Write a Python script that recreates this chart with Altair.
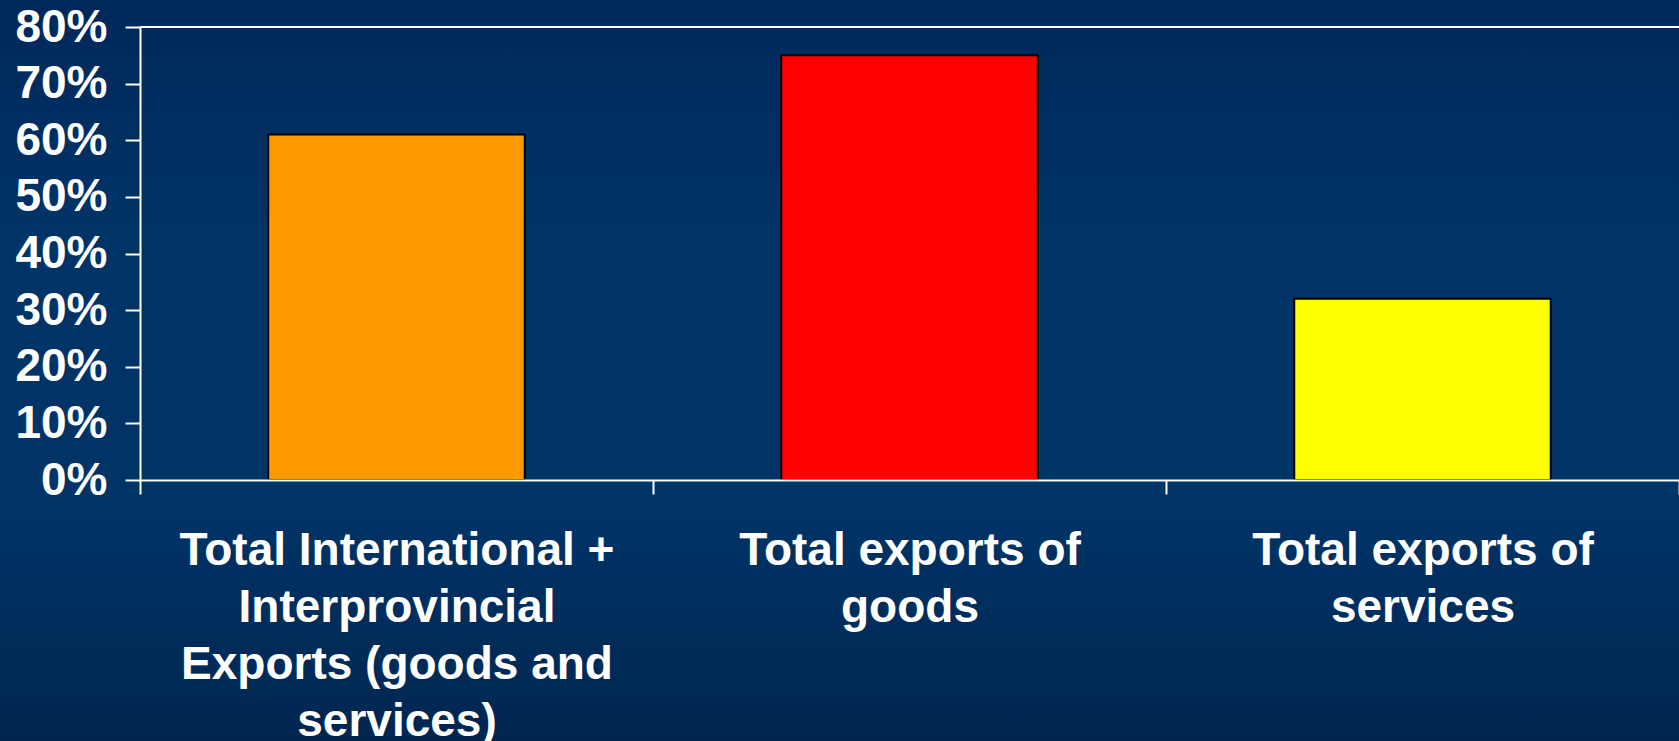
import altair as alt
import pandas as pd

categories = [
    "Total International + Interprovincial Exports (goods and services)",
    "Total exports of goods",
    "Total exports of services",
]
label_lines = [
    "Total International +\nInterprovincial\nExports (goods and\nservices)",
    "Total exports of\ngoods",
    "Total exports of\nservices",
]
values = [0.61, 0.75, 0.32]
bar_colors = ["#FF9900", "#FF0000", "#FFFF00"]

df = pd.DataFrame({"category": categories, "value": values, "label": label_lines})

W, H = 1539, 453
PAD_L, PAD_T, PAD_B = 140, 27, 261

label_map = "{" + ", ".join(
    f"{c!r}: {l!r}".replace("\n", "\\n") for c, l in zip(categories, label_lines)
) + "}"

font = "Liberation Sans"

bg = alt.Chart(df).mark_rect(
    color=alt.Gradient(
        gradient="linear",
        stops=[
            alt.GradientStop(color="#00285a", offset=0),
            alt.GradientStop(color="#003366", offset=0.3),
            alt.GradientStop(color="#003366", offset=0.7),
            alt.GradientStop(color="#002650", offset=1),
        ],
        x1=0, x2=0, y1=0, y2=1,
    )
).encode(
    x=alt.value(-PAD_L), x2=alt.value(W + 10),
    y=alt.value(-PAD_T), y2=alt.value(H + PAD_B),
)

x_enc = alt.X(
    "category:N",
    sort=categories,
    scale=alt.Scale(paddingInner=0, paddingOuter=0),
    axis=alt.Axis(
        title=None,
        labelAngle=0,
        labelExpr="isValid(" + label_map + "[datum.label]) ? split(" + label_map + "[datum.label], '\\n') : ''",
        labelFont=font,
        labelFontSize=46,
        labelFontWeight="bold",
        labelColor="white",
        labelLineHeight=57,
        labelPadding=34,
        labelLimit=0,
        tickBand="extent",
        tickSize=14,
        tickColor="white",
        tickWidth=2,
        domainColor="white",
        domainWidth=2,
        zindex=1,
    ),
)

bars = alt.Chart(df).mark_bar(
    stroke="black", strokeWidth=2, width=alt.RelativeBandSize(0.5)
).encode(
    x=x_enc,
    y=alt.Y(
        "value:Q",
        scale=alt.Scale(domain=[0, 0.8], nice=False),
        axis=alt.Axis(
            title=None,
            format="%",
            values=[0, 0.1, 0.2, 0.3, 0.4, 0.5, 0.6, 0.7, 0.8],
            grid=False,
            labelFont=font,
            labelFontSize=46,
            labelFontWeight="bold",
            labelColor="white",
            labelPadding=18,
            tickSize=15,
            tickColor="white",
            tickWidth=2,
            domainColor="white",
            domainWidth=2,
            zindex=1,
        ),
    ),
    color=alt.Color(
        "category:N",
        sort=categories,
        scale=alt.Scale(domain=categories, range=bar_colors),
        legend=None,
    ),
)

top_line = alt.Chart(df).mark_rule(color="white", strokeWidth=2).encode(
    y=alt.datum(0.8)
)

chart = alt.layer(bg, bars, top_line).properties(
    width=W,
    height=H,
    autosize=alt.AutoSizeParams(type="none"),
    padding={"left": PAD_L, "top": PAD_T, "right": 0, "bottom": PAD_B},
    background="#003366",
).configure_view(stroke=None)

chart.save("out.html", embed_options={"renderer": "svg", "actions": False})
